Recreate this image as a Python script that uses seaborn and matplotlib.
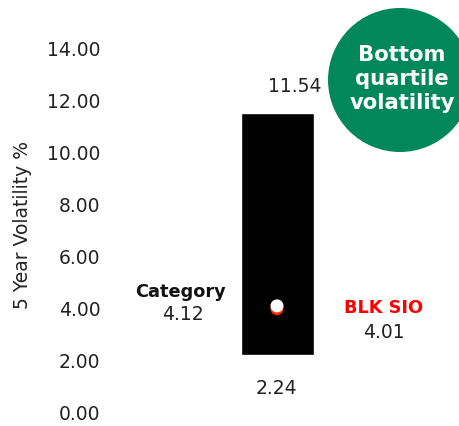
import matplotlib
matplotlib.use("Agg")
import matplotlib.pyplot as plt
from matplotlib.patches import Ellipse
import seaborn as sns
import pandas as pd

# Volatility range of the category and the two point estimates
range_low = 2.24
range_high = 11.54
category_value = 4.12
fund_value = 4.01
ytick_values = [0, 2, 4, 6, 8, 10, 12, 14]
ytick_labels = ["0.00", "2.00", "4.00", "6.00", "8.00", "10.00", "12.00", "14.00"]

sns.set_theme(style="white")
plt.rcParams["font.family"] = ["DejaVu Sans"]

W, H = 459, 426
fig = plt.figure(figsize=(W / 100, H / 100), dpi=100)

ax_left, ax_right = 110, 459
y0_px, y14_px = 413, 49
ax = fig.add_axes([ax_left / W, (H - y0_px) / H, (ax_right - ax_left) / W, (y0_px - y14_px) / H])

bar_px, bar_w = 277, 73
ax.set_xlim(-(bar_px - ax_left) / bar_w, (ax_right - bar_px) / bar_w)
ax.set_ylim(0, 14)

# floating range bar
ax.bar([0], [range_high - range_low], bottom=[range_low], width=1.0, color="black", zorder=1)

points = pd.DataFrame({
    "x": [0, 0],
    "y": [fund_value, category_value],
    "who": ["BLK SIO", "Category"],
})
sns.scatterplot(data=points, x="x", y="y", hue="who",
                palette={"BLK SIO": "#ff2a00", "Category": "white"},
                s=88, edgecolor="none", legend=False, ax=ax, zorder=3)

txt = "#222222"
fs = 13.5
ax.set_yticks(ytick_values)
ax.set_yticklabels(ytick_labels, fontsize=fs, color=txt)
ax.tick_params(axis="y", length=0, pad=7)
ax.set_xticks([])
ax.set_xlabel("")
ax.set_ylabel("5 Year Volatility %", fontsize=13.5, color=txt)
ax.yaxis.set_label_coords((32 - ax_left) / (ax_right - ax_left), (y0_px - 225) / (y0_px - y14_px))
for s in ax.spines.values():
    s.set_visible(False)

def px_x(p):
    return (p - bar_px) / bar_w

ax.text(px_x(295), range_high + 1.02, f"{range_high:.2f}", ha="center", va="center",
        fontsize=fs, color=txt, clip_on=False)
ax.text(px_x(276), range_low - 1.3, f"{range_low:.2f}", ha="center", va="center",
        fontsize=fs, color=txt, clip_on=False)
ax.text(px_x(181), 4.67, "Category", ha="center", va="center", fontsize=12.8,
        fontweight="bold", color="#111111")
ax.text(px_x(183), 3.77, f"{category_value:.2f}", ha="center", va="center",
        fontsize=fs, color=txt)
ax.text(px_x(384), 4.04, "BLK SIO", ha="center", va="center", fontsize=12.8,
        fontweight="bold", color="#ff0000")
ax.text(px_x(384), 3.08, f"{fund_value:.2f}", ha="center", va="center",
        fontsize=fs, color=txt)

# badge
cx, cy, r = 400, 80, 72
fig.patches.append(Ellipse((cx / W, 1 - cy / H), 2 * r / W, 2 * r / H,
                           transform=fig.transFigure, facecolor="#00875A",
                           edgecolor="none", zorder=5))
fig.text(402 / W, 1 - 79 / H, "Bottom\nquartile\nvolatility", ha="center", va="center",
         fontsize=15.2, fontweight="bold", color="white", linespacing=1.28, zorder=6)

fig.savefig("out.png", dpi=100, facecolor="white")
